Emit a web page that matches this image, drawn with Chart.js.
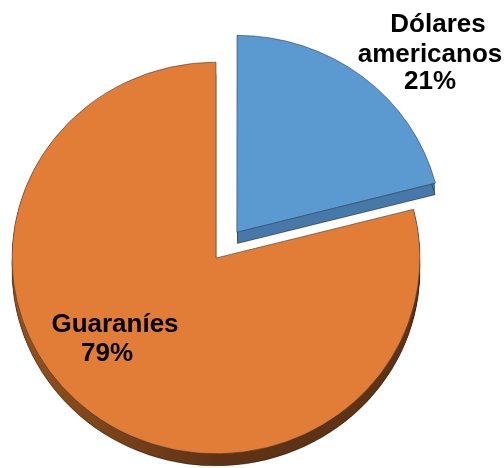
<!DOCTYPE html>
<html>
<head>
<meta charset="utf-8">
<script src="https://cdn.jsdelivr.net/npm/chart.js@4.4.1/dist/chart.umd.min.js"></script>
<style>
  html, body { margin: 0; padding: 0; background: #ffffff; }
  #wrap { width: 504px; height: 468px; position: relative; }
</style>
</head>
<body>
<div id="wrap"><canvas id="c" width="504" height="468"></canvas></div>
<script>
// ---- data ----
const categories = ['Dólares americanos', 'Guaraníes'];
const values = [21, 79];
const percentLabels = ['21%', '79%'];

// ---- styles ----
const faceColors = ['#5B9AD0', '#E27D37'];
const sideColors = [['#4679AA', '#4679AA'], ['#94521F', '#5E3315']];
const offsets = [136, 0];   // Chart.js applies roughly offset/4 as the explode distance

const SCALE_Y = 0.96;
const DEPTH = 12;

// label line placement (text anchors)
const labelPlacement = [
  [[438, 32], [430, 62], [430, 89]],
  [[115, 332], [107, 361]]
];

function explodeShift(arc) {
  const p = arc.getProps(['startAngle', 'endAngle']);
  const off = (arc.options.offset || 0) / 4;
  const circ = p.endAngle - p.startAngle;
  const fix = 1 - Math.sin(Math.min(Math.PI, circ || 0));
  const total = off + off * fix;
  const half = (p.startAngle + p.endAngle) / 2;
  return [Math.cos(half) * total, Math.sin(half) * total];
}

const pseudo3D = {
  id: 'pseudo3D',
  beforeDatasetsDraw(chart) {
    const ctx = chart.ctx;
    const meta = chart.getDatasetMeta(0);
    const cy = (chart.chartArea.top + chart.chartArea.bottom) / 2;
    ctx.save();
    ctx.translate(0, cy);
    ctx.scale(1, SCALE_Y);
    ctx.translate(0, -cy);
    const d = DEPTH / SCALE_Y;
    meta.data.forEach((arc, i) => {
      const p = arc.getProps(['x', 'y', 'startAngle', 'endAngle', 'outerRadius']);
      const [sx, sy] = explodeShift(arc);
      const x = p.x + sx, y = p.y + sy;
      const g = ctx.createLinearGradient(x - p.outerRadius, 0, x, 0);
      g.addColorStop(0, sideColors[i][0]);
      g.addColorStop(1, sideColors[i][1]);
      ctx.fillStyle = g;
      for (let t = 1; t <= Math.ceil(d); t++) {
        const dy = Math.min(t, d);
        ctx.beginPath();
        ctx.moveTo(x, y + dy);
        ctx.arc(x, y + dy, p.outerRadius, p.startAngle, p.endAngle);
        ctx.closePath();
        ctx.fill();
      }
      ctx.strokeStyle = 'rgba(40,20,10,0.6)';
      ctx.lineWidth = 0.8;
      ctx.beginPath();
      ctx.moveTo(x, y + d);
      ctx.arc(x, y + d, p.outerRadius, p.startAngle, p.endAngle);
      ctx.closePath();
      ctx.stroke();
    });
  },
  afterDatasetsDraw(chart) {
    const ctx = chart.ctx;
    ctx.restore();
    ctx.save();
    ctx.fillStyle = '#000000';
    ctx.font = 'bold 26px "Liberation Sans", Arial, sans-serif';
    ctx.textAlign = 'center';
    ctx.textBaseline = 'alphabetic';
    categories.forEach((cat, i) => {
      const lines = cat.split(' ').concat([percentLabels[i]]);
      lines.forEach((ln, j) => {
        const pos = labelPlacement[i][j];
        ctx.fillText(ln, pos[0], pos[1]);
      });
    });
    ctx.restore();
  }
};

new Chart(document.getElementById('c'), {
  type: 'pie',
  data: {
    labels: categories,
    datasets: [{
      data: values,
      backgroundColor: faceColors,
      borderColor: 'rgba(50,50,50,0.7)',
      borderWidth: 0.8,
      offset: offsets,
      radius: 204
    }]
  },
  options: {
    responsive: false,
    animation: false,
    devicePixelRatio: 1,
    layout: { padding: { left: 0, right: 72, top: 48, bottom: 0 } },
    plugins: {
      legend: { display: false },
      tooltip: { enabled: false },
      title: { display: false }
    }
  },
  plugins: [pseudo3D]
});
</script>
</body>
</html>
